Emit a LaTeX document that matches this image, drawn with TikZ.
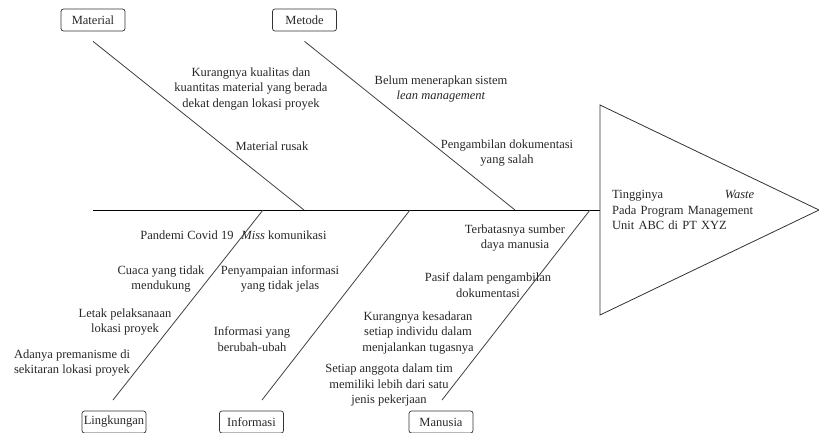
\documentclass[tikz,border=0pt]{standalone}
\usepackage{fontspec}
\setmainfont{Liberation Serif}

\begin{document}
\begin{tikzpicture}[x=1pt,y=-1pt]
\tikzstyle{every node}+=[inner sep=0pt, text=black!85, font=\fontsize{12.5}{15.5}\selectfont]
\tikzstyle{kat}=[draw=black!80, line width=0.7pt, rounded corners=2.5pt, minimum width=64pt, minimum height=22pt, inner sep=1pt]
\tikzstyle{tulang}=[draw=black!75, line width=0.8pt]
\tikzstyle{sebab}=[align=center]
\useasboundingbox (0,0) rectangle (819,432);
% kepala ikan
\coordinate (hA) at (600,105);
\coordinate (hB) at (819,210);
\coordinate (hC) at (600,315);
\draw [black!80, line width=0.8pt] (hA) -- (hB) -- (hC) -- cycle;
\draw (612,210) node[anchor=west, text width=142pt, align=left] (akibat) {Tingginya\hfill\textit{Waste}\\Pada Program Management\\Unit ABC di PT XYZ};
% tulang utama
\coordinate (ekor) at (93,210);
\coordinate (leher) at (600,210);
\draw [black, line width=0.8pt] (ekor) -- (leher);
% kategori
\draw (93,20) node[kat] (mat) {Material};
\draw (304.5,20) node[kat] (met) {Metode};
\draw (114,422) node[kat] (ling) {Lingkungan};
\draw (251.5,422) node[kat] (info) {Informasi};
\draw (441,422) node[kat] (man) {Manusia};
\coordinate (s1) at (304,210);
\coordinate (s2) at (515,210);
\coordinate (s3) at (263,210);
\coordinate (s4) at (410,210);
\coordinate (s5) at (590,210);
\coordinate (b3) at (113,400);
\coordinate (b4) at (262,400);
\coordinate (b5) at (442,400);
\draw [tulang] ([yshift=-10pt]mat.south) -- (s1);
\draw [tulang] ([yshift=-10pt]met.south) -- (s2);
\draw [tulang] (b3) -- (s3);
\draw [tulang] (b4) -- (s4);
\draw [tulang] (b5) -- (s5);
% sebab material dan metode
\draw (251,89) node[sebab] (m1) {Kurangnya kualitas dan\\kuantitas material yang berada\\dekat dengan lokasi proyek};
\draw (272,146) node[sebab] (m2) {Material rusak};
\draw (441,89) node[sebab] (d1) {Belum menerapkan sistem\\\textit{lean management}};
\draw (507,153) node[sebab] (d2) {Pengambilan dokumentasi\\yang salah};
% sebab lingkungan
\draw (187,235) node[sebab] (l1) {Pandemi Covid 19};
\draw (161,279) node[sebab] (l2) {Cuaca yang tidak\\mendukung};
\draw (125,322) node[sebab] (l3) {Letak pelaksanaan\\lokasi proyek};
\draw (72,363) node[sebab] (l4) {Adanya premanisme di\\sekitaran lokasi proyek};
% sebab informasi
\draw (284,235) node[sebab] (i1) {\textit{Miss} komunikasi};
\draw (280,279) node[sebab] (i2) {Penyampaian informasi\\yang tidak jelas};
\draw (252,339) node[sebab] (i3) {Informasi yang\\berubah-ubah};
% sebab manusia
\draw (515,238) node[sebab] (u1) {Terbatasnya sumber\\daya manusia};
\draw (488,285) node[sebab] (u2) {Pasif dalam pengambilan\\dokumentasi};
\draw (418,333) node[sebab] (u3) {Kurangnya kesadaran\\setiap individu dalam\\menjalankan tugasnya};
\draw (389,385) node[sebab] (u4) {Setiap anggota dalam tim\\memiliki lebih dari satu\\jenis pekerjaan};
\end{tikzpicture}
\end{document}
